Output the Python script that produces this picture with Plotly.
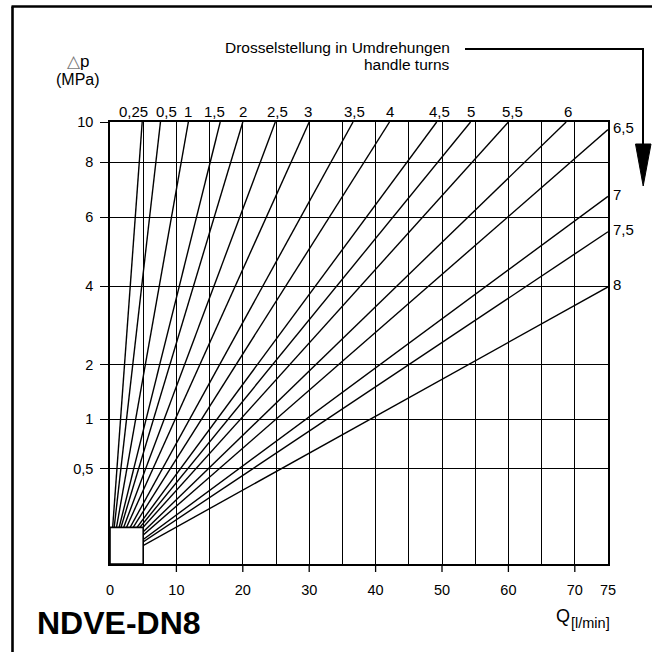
import numpy as np
import plotly.graph_objects as go

# ---------------- data ----------------
TURNS = ["0,25", "0,5", "1", "1,5", "2", "2,5", "3", "3,5", "4", "4,5", "5",
         "5,5", "6", "6,5", "7", "7,5", "8"]
# end point of every line: flow Q [l/min] and pressure drop dp [MPa]
END_Q = [4.85, 7.6, 11.8, 16.6, 20.0, 24.9, 30.0, 36.6, 42.1, 49.2, 54.3,
         60.0, 68.7, 75, 75, 75, 75]
END_DP = [10, 10, 10, 10, 10, 10, 10, 10, 10, 10, 10, 10, 10,
          9.66, 6.92, 5.65, 3.93]

Q_TICKS = [0, 10, 20, 30, 40, 50, 60, 70, 75]
Q_GRID = [5, 15, 25, 35, 45, 55, 65]
DP_TICKTEXT = ["0,5", "1", "2", "4", "6", "8", "10"]
BOX_Q = 5
BOX_DP = 0.0686

# graduation of the (hand drawn, square-root type) pressure scale,
# in sqrt(MPa) units as drawn on the chart
DP_SCALE_POS = [0.680, 1.036, 1.427, 1.987, 2.482, 2.875, 3.1623]

# ---------------- layout helpers ----------------
W = H = 652
L, R, T, B = 110, 608, 122, 564


def px(xp):
    return (xp - L) / (R - L)


def py(yp):
    return (B - yp) / (B - T)


FONT = "Liberation Sans, Arial, Helvetica, sans-serif"

fig = go.Figure()

for name, q, dp in zip(TURNS, END_Q, END_DP):
    fig.add_trace(go.Scatter(
        x=[0, q], y=[0, np.sqrt(dp)], mode="lines", name=name,
        line=dict(color="black", width=1.4), hoverinfo="name"))

fig.update_xaxes(
    range=[0, 75], tickmode="array", tickvals=Q_TICKS,
    ticktext=[str(v) for v in Q_TICKS],
    showgrid=True, gridcolor="black", gridwidth=1.3,
    showline=True, linecolor="black", linewidth=1.6, mirror=True,
    ticks="", zeroline=False, ticklabelstandoff=12,
    tickfont=dict(size=14.5, family=FONT, color="black"),
    minor=dict(tickmode="array", tickvals=Q_GRID, ticks="",
               showgrid=True, gridcolor="black", gridwidth=1.3),
    fixedrange=True)

fig.update_yaxes(
    range=[0, np.sqrt(10)], tickmode="array",
    tickvals=DP_SCALE_POS, ticktext=DP_TICKTEXT,
    showgrid=True, gridcolor="black", gridwidth=1.3,
    showline=True, linecolor="black", linewidth=1.6, mirror=True,
    ticks="outside", ticklen=8, tickwidth=1.3, tickcolor="black",
    zeroline=False, ticklabelstandoff=4,
    tickfont=dict(size=14.5, family=FONT, color="black"),
    fixedrange=True)

shapes = []
# tick marks below the x axis (10 ... 70)
for q in Q_TICKS[1:-1]:
    shapes.append(dict(type="line", xref="x", yref="paper", x0=q, x1=q,
                       y0=0, y1=py(B + 8), line=dict(color="black", width=1.3)))
# small box at the origin covering the line starts
shapes.append(dict(type="rect", xref="x", yref="y", x0=0, x1=BOX_Q, y0=0,
                   y1=np.sqrt(BOX_DP), fillcolor="white",
                   line=dict(color="black", width=1.6), layer="above"))
# outer frame (left and top)
shapes.append(dict(type="line", xref="paper", yref="paper",
                   x0=px(12.5), x1=px(12.5), y0=py(6.5), y1=py(660),
                   line=dict(color="black", width=2.6)))
shapes.append(dict(type="line", xref="paper", yref="paper",
                   x0=px(11.5), x1=px(660), y0=py(6.5), y1=py(6.5),
                   line=dict(color="black", width=2.6)))
# arrow from the legend text to the right-hand labels
shapes.append(dict(type="path", xref="paper", yref="paper",
                   path=f"M {px(465)},{py(49)} L {px(643)},{py(49)} L {px(643)},{py(146)}",
                   line=dict(color="black", width=2)))
shapes.append(dict(type="path", xref="paper", yref="paper",
                   path=f"M {px(635.5)},{py(144)} L {px(651)},{py(144)} L {px(643.2)},{py(186)} Z",
                   fillcolor="black", line=dict(color="black", width=1)))

annotations = []
TOP_SHIFT = {"0,25": -9, "0,5": 6, "1,5": -6, "2,5": 2, "3": -1, "3,5": 1,
             "4,5": 3, "5,5": 4, "6": 2}
for name, q, dp in zip(TURNS, END_Q, END_DP):
    if dp >= 10:
        annotations.append(dict(x=q, y=1, xref="x", yref="paper", text=name,
                                showarrow=False, xanchor="center", yanchor="middle",
                                yshift=11, xshift=TOP_SHIFT.get(name, 0),
                                font=dict(size=15, family=FONT)))
    else:
        annotations.append(dict(x=q, y=np.sqrt(dp), xref="x", yref="y", text=name,
                                showarrow=False, xanchor="left", yanchor="middle",
                                xshift=3, yshift=2, font=dict(size=15, family=FONT)))

annotations += [
    dict(x=px(452), y=py(48), xref="paper", yref="paper",
         text="Drosselstellung in Umdrehungen", showarrow=False,
         xanchor="right", yanchor="middle", font=dict(size=15.5, family=FONT)),
    dict(x=px(452), y=py(64), xref="paper", yref="paper",
         text="handle turns", showarrow=False,
         xanchor="right", yanchor="middle", font=dict(size=15.5, family=FONT)),
    dict(x=px(78), y=py(61), xref="paper", yref="paper",
         text='<span style="color:#777777">△</span>p', showarrow=False,
         xanchor="center", yanchor="middle", font=dict(size=17, family=FONT)),
    dict(x=px(78), y=py(80), xref="paper", yref="paper",
         text="(MPa)", showarrow=False,
         xanchor="center", yanchor="middle", font=dict(size=16, family=FONT)),
    dict(x=px(35), y=py(623), xref="paper", yref="paper",
         text="<b>NDVE-DN8</b>", showarrow=False,
         xanchor="left", yanchor="middle", font=dict(size=32, family=FONT)),
    dict(x=px(572), y=py(616), xref="paper", yref="paper",
         text="Q", showarrow=False,
         xanchor="right", yanchor="middle", font=dict(size=18, family=FONT)),
    dict(x=px(569), y=py(623), xref="paper", yref="paper",
         text="[l/min]", showarrow=False,
         xanchor="left", yanchor="middle", font=dict(size=14.5, family=FONT)),
]

fig.update_layout(
    width=W, height=H,
    margin=dict(l=L, r=W - R, t=T, b=H - B, pad=0),
    plot_bgcolor="white", paper_bgcolor="white",
    showlegend=False,
    font=dict(family=FONT, size=14, color="black"),
    shapes=shapes, annotations=annotations)

fig.write_html("out.html",
               config={"displayModeBar": False},
               post_script="document.body.style.margin='0px';"
                           "document.body.style.overflow='hidden';")
